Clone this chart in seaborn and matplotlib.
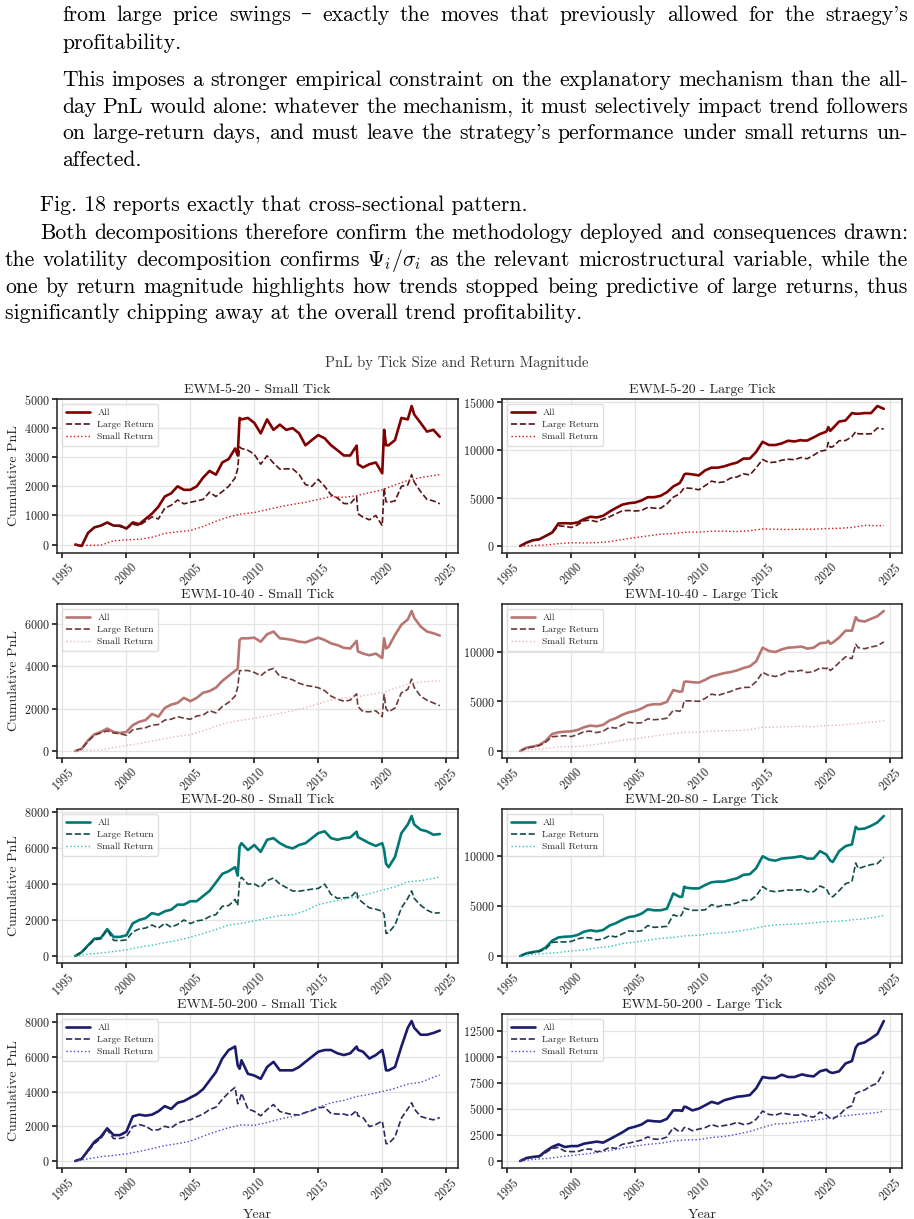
import matplotlib
matplotlib.use("Agg")
import matplotlib.pyplot as plt
import numpy as np
import pandas as pd
import seaborn as sns
from matplotlib.ticker import MultipleLocator

# time knots (years) for the "All" / "Large Return" curves
years = [1996.0, 1996.5, 1997.0, 1997.5, 1998.0, 1998.5, 1999.0, 1999.5, 2000.0, 2000.5,
         2001.0, 2001.5, 2002.0, 2002.5, 2003.0, 2003.5, 2004.0, 2004.5, 2005.0, 2005.5,
         2006.0, 2006.5, 2007.0, 2007.5, 2008.0, 2008.5, 2008.7, 2008.85, 2009.0, 2009.5,
         2010.0, 2010.5, 2011.0, 2011.5, 2012.0, 2012.5, 2013.0, 2013.5, 2014.0, 2014.5,
         2015.0, 2015.5, 2016.0, 2016.5, 2017.0, 2017.5, 2018.0, 2018.1, 2018.5, 2019.0,
         2019.5, 2020.0, 2020.15, 2020.3, 2020.5, 2021.0, 2021.5, 2022.0, 2022.3, 2022.5,
         2023.0, 2023.5, 2024.0, 2024.5]
# yearly knots for the smooth "Small Return" curves
years_small = [1996, 1997, 1998, 1999, 2000, 2001, 2002, 2003, 2004, 2005,
               2006, 2007, 2008, 2009, 2010, 2011, 2012, 2013, 2014, 2015,
               2016, 2017, 2018, 2019, 2020, 2021, 2022, 2023, 2024, 2024.5]

# EWM-5-20
ewm5_small_all = [0, -50, 400, 590, 650, 760, 650, 650, 550, 760,
                  700, 880, 1060, 1300, 1650, 1760, 2000, 1880, 1880, 2000,
                  2300, 2530, 2400, 2820, 2940, 3300, 3060, 4350, 4300, 4350,
                  4180, 3820, 4300, 3940, 4120, 3940, 4000, 3820, 3410, 3590,
                  3760, 3650, 3410, 3240, 3060, 3060, 3400, 2760, 2650, 2760,
                  2820, 2450, 3940, 3410, 3410, 3590, 4350, 4300, 4760, 4470,
                  4180, 3880, 3940, 3700]
ewm5_small_large = [0, -50, 400, 590, 650, 740, 650, 620, 550, 700,
                    650, 800, 950, 880, 1250, 1350, 1530, 1400, 1450, 1500,
                    1550, 1800, 1650, 1820, 2000, 2290, 2600, 3350, 3300, 3240,
                    3100, 2760, 3050, 2800, 2590, 2600, 2600, 2410, 2060, 2000,
                    2240, 2000, 1710, 1600, 1410, 1400, 1650, 1060, 940, 850,
                    1000, 650, 1940, 1470, 1450, 1500, 2000, 2050, 2400, 2150,
                    1820, 1550, 1500, 1400]
ewm5_small_small = [0, -30, -20, 130, 160, 180, 250, 380, 440, 480,
                    620, 800, 950, 1050, 1100, 1200, 1300, 1380, 1450, 1550,
                    1650, 1620, 1680, 1780, 1880, 2050, 2200, 2300, 2370, 2400]
ewm5_large_all = [0, 350, 600, 700, 1050, 1400, 2350, 2380, 2350, 2450,
                  2800, 3050, 2980, 3150, 3580, 3960, 4310, 4460, 4530, 4740,
                  5090, 5090, 5230, 5610, 6210, 6560, 7000, 7450, 7540, 7470,
                  7360, 7890, 8170, 8170, 8310, 8530, 8700, 9120, 9120, 9820,
                  10870, 10530, 10530, 10700, 10980, 10900, 11050, 11000, 11000, 11330,
                  11680, 11930, 12400, 12000, 12280, 12980, 13090, 13860, 13800, 13790,
                  13860, 13860, 14600, 14300]
ewm5_large_large = [0, 350, 600, 700, 1050, 1350, 2100, 2050, 1930, 2200,
                    2630, 2700, 2530, 2800, 3050, 3350, 3680, 3700, 3650, 3700,
                    4030, 3950, 3930, 4390, 5090, 5440, 5800, 6070, 6050, 6000,
                    5860, 6300, 6770, 6600, 6700, 7090, 7200, 7540, 7400, 8170,
                    9020, 8700, 8750, 8950, 9050, 9000, 9230, 9200, 9100, 9470,
                    9890, 10000, 10800, 10300, 10350, 10980, 11000, 11400, 11930, 11700,
                    11680, 11700, 12300, 12200]
ewm5_large_small = [0, 50, 100, 250, 340, 320, 350, 450, 680, 870,
                    1050, 1230, 1300, 1440, 1450, 1540, 1550, 1500, 1600, 1780,
                    1750, 1720, 1750, 1750, 1820, 1850, 1930, 2150, 2120, 2130]

# EWM-10-40
ewm10_small_all = [0, 100, 500, 790, 900, 1060, 900, 850, 900, 1220,
                   1380, 1460, 1750, 1620, 2030, 2190, 2270, 2510, 2350, 2510,
                   2750, 2830, 2990, 3310, 3550, 3790, 3870, 5240, 5320, 5320,
                   5350, 5160, 5510, 5640, 5320, 5290, 5240, 5160, 5130, 5240,
                   5350, 5240, 5080, 5000, 4870, 4840, 5200, 4700, 4600, 4520,
                   4600, 4390, 5320, 4840, 4920, 5480, 5960, 6210, 6610, 6290,
                   5880, 5640, 5560, 5450]
ewm10_small_large = [0, 100, 450, 750, 850, 950, 850, 820, 740, 1000,
                     1050, 1100, 1220, 1250, 1460, 1500, 1620, 1550, 1500, 1650,
                     1700, 1900, 1800, 2100, 2300, 2590, 3000, 3790, 3800, 3800,
                     3710, 3550, 3800, 3900, 3520, 3450, 3360, 3200, 3100, 3050,
                     2990, 2850, 2590, 2450, 2350, 2400, 2700, 2100, 1860, 1850,
                     1900, 1620, 2670, 2000, 1850, 2030, 2750, 2910, 3390, 3000,
                     2590, 2400, 2270, 2140]
ewm10_small_small = [0, 50, 50, 150, 260, 350, 470, 580, 690, 770,
                     950, 1170, 1350, 1450, 1550, 1650, 1780, 1900, 2040, 2230,
                     2400, 2510, 2550, 2670, 2750, 2960, 3150, 3260, 3300, 3310]
ewm10_large_all = [0, 340, 440, 610, 1020, 1710, 1880, 1950, 1980, 2120,
                   2390, 2560, 2490, 2630, 3070, 3310, 3650, 3890, 4030, 4270,
                   4610, 4710, 4710, 4950, 6140, 5970, 6000, 6950, 7000, 6930,
                   6890, 7170, 7510, 7680, 7850, 7950, 8120, 8360, 8530, 9040,
                   10410, 10070, 9970, 10240, 10410, 10450, 10510, 10500, 10310, 10410,
                   10850, 10920, 11100, 10800, 10920, 11430, 12120, 12120, 13480, 13140,
                   13040, 13310, 13580, 14100]
ewm10_large_large = [0, 300, 420, 550, 900, 1430, 1500, 1540, 1450, 1650,
                     1950, 2000, 1850, 2000, 2390, 2300, 2630, 2900, 2800, 2850,
                     3240, 3150, 3200, 3300, 4100, 4000, 4200, 5050, 5050, 5050,
                     5000, 5300, 5730, 5600, 5800, 6000, 6250, 6400, 6420, 7000,
                     7920, 7600, 7510, 7700, 8020, 8000, 8120, 8100, 7900, 8000,
                     8360, 8300, 8450, 8100, 8300, 8900, 9490, 9300, 10750, 10400,
                     10300, 10480, 10600, 10990]
ewm10_large_small = [0, 150, 250, 420, 450, 500, 680, 850, 1090, 1230,
                     1400, 1600, 1770, 1880, 1900, 2010, 2050, 2050, 2150, 2390,
                     2400, 2450, 2490, 2450, 2560, 2600, 2700, 2870, 2950, 3070]

# EWM-20-80
ewm20_small_all = [0, 210, 590, 960, 1000, 1490, 1060, 1060, 1150, 1810,
                   2000, 2100, 2380, 2290, 2480, 2570, 2850, 2850, 3040, 3040,
                   3330, 3610, 4080, 4560, 4710, 4930, 4460, 6070, 6260, 5880,
                   6160, 5780, 6450, 6540, 6260, 6070, 5970, 6160, 6260, 6540,
                   6820, 6920, 6540, 6450, 6540, 6580, 6900, 6600, 6450, 6260,
                   6110, 6260, 5880, 5120, 4930, 5500, 6820, 7300, 7770, 7300,
                   7010, 6920, 6730, 6770]
ewm20_small_large = [0, 200, 550, 900, 950, 1450, 870, 850, 900, 1340,
                     1500, 1550, 1720, 1550, 1810, 1600, 1750, 2000, 1800, 1950,
                     2000, 2190, 2300, 2760, 2800, 3140, 2800, 4180, 4370, 3990,
                     4000, 3800, 4180, 4330, 3990, 3800, 3610, 3600, 3650, 3710,
                     3750, 3990, 3420, 3200, 3230, 3250, 3600, 3200, 2950, 2670,
                     2600, 2480, 2300, 1250, 1300, 1720, 2670, 3200, 3610, 3200,
                     2820, 2550, 2380, 2400]
ewm20_small_small = [0, 100, 170, 250, 340, 490, 600, 740, 870, 1040,
                     1250, 1470, 1720, 1810, 1950, 2100, 2250, 2290, 2510, 2850,
                     3010, 3150, 3290, 3460, 3650, 3840, 4120, 4180, 4300, 4400]
ewm20_large_all = [0, 270, 400, 500, 840, 1520, 1850, 1920, 1950, 2090,
                   2420, 2560, 2460, 2590, 3030, 3270, 3600, 3870, 3970, 4210,
                   4650, 4550, 4550, 4710, 6230, 5890, 5900, 6900, 6800, 6730,
                   6730, 7070, 7340, 7410, 7410, 7580, 7740, 8080, 8150, 8750,
                   9930, 9600, 9490, 9700, 9760, 9830, 9930, 9900, 9700, 9700,
                   10440, 10100, 9800, 9500, 9360, 10440, 10940, 11110, 12860, 12630,
                   12690, 12960, 13300, 13940]
ewm20_large_large = [0, 250, 350, 450, 700, 1350, 1400, 1400, 1450, 1700,
                     1850, 1800, 1600, 1700, 2020, 1900, 2200, 2490, 2450, 2500,
                     3030, 2850, 2900, 2950, 4100, 3900, 4200, 4780, 4700, 4550,
                     4550, 4600, 5120, 4900, 5100, 5100, 5300, 5560, 5500, 6000,
                     6900, 6500, 6400, 6500, 6570, 6550, 6600, 6700, 6400, 6400,
                     6970, 6700, 6300, 6000, 5890, 6500, 7200, 7400, 9260, 8700,
                     8920, 9100, 9200, 9830]
ewm20_large_small = [0, 150, 250, 350, 500, 600, 810, 950, 1250, 1380,
                     1580, 1750, 1850, 2020, 2050, 2260, 2300, 2460, 2650, 2930,
                     3100, 3150, 3200, 3300, 3430, 3450, 3600, 3700, 3900, 4040]

# EWM-50-200
ewm50_small_all = [0, 120, 610, 1100, 1390, 1880, 1490, 1490, 1690, 2570,
                   2670, 2610, 2670, 2860, 3160, 3000, 3350, 3450, 3650, 3840,
                   4140, 4630, 5120, 5900, 6390, 6590, 5510, 5310, 5800, 5020,
                   4920, 4730, 5410, 5710, 5220, 5220, 5220, 5410, 5710, 6000,
                   6290, 6390, 6390, 6200, 6100, 6200, 6590, 6400, 6290, 5900,
                   6100, 6390, 5900, 5220, 5220, 5410, 6590, 7670, 8060, 7670,
                   7270, 7270, 7370, 7510]
ewm50_small_large = [0, 100, 550, 1000, 1300, 1800, 1290, 1300, 1400, 1980,
                     2100, 2000, 1780, 1800, 2000, 1900, 2180, 2300, 2370, 2550,
                     2700, 2960, 3100, 3550, 3940, 4240, 3300, 3500, 3900, 3000,
                     2860, 2600, 2960, 3250, 2850, 2750, 2670, 2650, 2800, 2900,
                     3060, 3100, 2730, 2700, 2700, 2600, 2900, 2600, 2500, 1980,
                     2100, 2300, 1700, 1000, 1000, 1390, 2470, 3000, 3350, 3000,
                     2570, 2450, 2370, 2500]
ewm50_small_small = [0, 120, 250, 320, 410, 550, 710, 880, 1000, 1140,
                     1430, 1690, 1920, 2080, 2050, 2220, 2410, 2570, 2760, 3100,
                     3350, 3490, 3710, 3840, 4000, 4180, 4430, 4530, 4820, 4960]
ewm50_large_all = [0, 290, 390, 460, 940, 1340, 1600, 1340, 1430, 1430,
                   1660, 1760, 1860, 1760, 2080, 2410, 2740, 3130, 3290, 3490,
                   3880, 3810, 3780, 4040, 4850, 4850, 4800, 5200, 5180, 4850,
                   5020, 5340, 5670, 5500, 5830, 5990, 6160, 6220, 6320, 6970,
                   8050, 7950, 7950, 8270, 8050, 8050, 8270, 8300, 8180, 8110,
                   8600, 8760, 8600, 8500, 8440, 8600, 9350, 9580, 10880, 11210,
                   11370, 11760, 12180, 13420]
ewm50_large_large = [0, 250, 350, 400, 800, 1200, 1300, 940, 900, 900,
                     1110, 1150, 880, 1000, 1300, 1200, 1600, 1700, 1860, 2000,
                     2310, 2100, 2080, 2300, 3200, 2800, 2900, 3200, 3220, 2900,
                     3060, 3200, 3490, 3300, 3400, 3500, 3710, 3500, 3600, 4000,
                     4790, 4460, 4400, 4600, 4500, 4400, 4400, 4500, 4300, 4200,
                     4690, 4400, 4200, 4100, 4040, 4400, 5020, 5300, 6480, 6600,
                     6810, 7200, 7460, 8600]
ewm50_large_small = [0, 150, 230, 380, 520, 650, 810, 1000, 1240, 1430,
                     1600, 1700, 1920, 2020, 2050, 2250, 2350, 2570, 2830, 3220,
                     3550, 3600, 3780, 3900, 4070, 4270, 4400, 4530, 4650, 4790]

strategies = ["EWM-5-20", "EWM-10-40", "EWM-20-80", "EWM-50-200"]
series = {
    "EWM-5-20": [(ewm5_small_all, ewm5_small_large, ewm5_small_small),
                 (ewm5_large_all, ewm5_large_large, ewm5_large_small)],
    "EWM-10-40": [(ewm10_small_all, ewm10_small_large, ewm10_small_small),
                  (ewm10_large_all, ewm10_large_large, ewm10_large_small)],
    "EWM-20-80": [(ewm20_small_all, ewm20_small_large, ewm20_small_small),
                  (ewm20_large_all, ewm20_large_large, ewm20_large_small)],
    "EWM-50-200": [(ewm50_small_all, ewm50_small_large, ewm50_small_small),
                   (ewm50_large_all, ewm50_large_large, ewm50_large_small)],
}
# (All, Large Return, Small Return)
palette = {
    "EWM-5-20": ("#800000", "#561414", "#d01515"),
    "EWM-10-40": ("#b87673", "#6e3a3a", "#e6b5b5"),
    "EWM-20-80": ("#007874", "#124c49", "#2ec0bd"),
    "EWM-50-200": ("#1b1b6b", "#2a2a5c", "#4646cc"),
}

# page text above the figure: (left px, line centre px, text, justified)
body = [
    (62, 15, "from large price swings – exactly the moves that previously allowed for the straegy's", True),
    (62, 43, "profitability.", False),
    (62, 80, "This imposes a stronger empirical constraint on the explanatory mechanism than the all-", True),
    (62, 107, "day PnL would alone: whatever the mechanism, it must selectively impact trend followers", True),
    (62, 133, "on large-return days, and must leave the strategy's performance under small returns un-", True),
    (62, 160, "affected.", False),
    (40, 205, "Fig. 18 reports exactly that cross-sectional pattern.", False),
    (40, 233, "Both decompositions therefore confirm the methodology deployed and consequences drawn:", True),
    (5, 260, r"the volatility decomposition confirms $\Psi_i/\sigma_i$ as the relevant microstructural variable, while the", True),
    (5, 287, "one by return magnitude highlights how trends stopped being predictive of large returns, thus", True),
    (5, 313, "significantly chipping away at the overall trend profitability.", False),
]

sns.set_theme(style="whitegrid", rc={
    "axes.edgecolor": "#222222", "axes.linewidth": 1.1,
    "grid.color": "#e4e4e4", "grid.linewidth": 0.9,
    "xtick.bottom": True, "ytick.left": True,
    "xtick.major.size": 3.5, "ytick.major.size": 3.5,
    "xtick.color": "#222222", "ytick.color": "#222222",
})
plt.rcParams["font.family"] = ["cmr10", "DejaVu Serif"]
plt.rcParams["mathtext.fontset"] = "cm"
plt.rcParams["axes.formatter.use_mathtext"] = True

W, H = 914, 1219
fig = plt.figure(figsize=(W / 100, H / 100), dpi=100)
renderer = fig.canvas.get_renderer()
BODY_FS = 15.6
RIGHT = 908

for x0, yc, txt, just in body:
    yb = 1 - (yc + 6) / H
    if not just:
        fig.text(x0 / W, yb, txt, fontsize=BODY_FS, va="baseline", color="black")
        continue
    words = txt.split(" ")
    items = [fig.text(0, yb, w, fontsize=BODY_FS, va="baseline", color="black") for w in words]
    widths = [it.get_window_extent(renderer).width for it in items]
    gap = (RIGHT - x0 - sum(widths)) / (len(words) - 1)
    x = x0
    for it, w in zip(items, widths):
        it.set_x(x / W)
        x += w + gap

fig.text(457 / W, 1 - 363 / H, "PnL by Tick Size and Return Magnitude",
         ha="center", va="center", fontsize=10.5, color="#333333")

t_all = np.array(years)
t_small = np.array(years_small)
col_left = [(57, 401), (502, 400)]
row_top = [399, 604, 809, 1014]
AX_H = 154

for r, strat in enumerate(strategies):
    c_all, c_large, c_small = palette[strat]
    for c, tick in enumerate(["Small Tick", "Large Tick"]):
        y_all, y_large, y_small = series[strat][c]
        left, width = col_left[c]
        ax = fig.add_axes([left / W, 1 - (row_top[r] + AX_H) / H, width / W, AX_H / H])
        sns.lineplot(x=t_all, y=np.array(y_all), ax=ax, color=c_all, lw=1.9, label="All")
        sns.lineplot(x=t_all, y=np.array(y_large), ax=ax, color=c_large, lw=1.2,
                     linestyle="--", label="Large Return")
        sns.lineplot(x=t_small, y=np.array(y_small), ax=ax, color=c_small, lw=1.0,
                     linestyle=":", label="Small Return")
        ax.set_title(f"{strat} - {tick}", fontsize=10, pad=4, color="#222222")
        ax.xaxis.set_major_locator(MultipleLocator(5))
        ax.tick_params(axis="both", labelsize=8.7, pad=2)
        plt.setp(ax.get_xticklabels(), rotation=45)
        ax.set_ylabel("Cumulative PnL" if c == 0 else "", fontsize=10, labelpad=3)
        ax.set_xlabel("Year" if r == 3 else "", fontsize=10)
        for sp in ax.spines.values():
            sp.set_visible(True)
        ax.legend(loc="upper left", fontsize=7, handlelength=2.4, labelspacing=0.35,
                  borderpad=0.45, frameon=True, edgecolor="#d8d8d8", fancybox=True)

fig.savefig("out.png", dpi=100)
